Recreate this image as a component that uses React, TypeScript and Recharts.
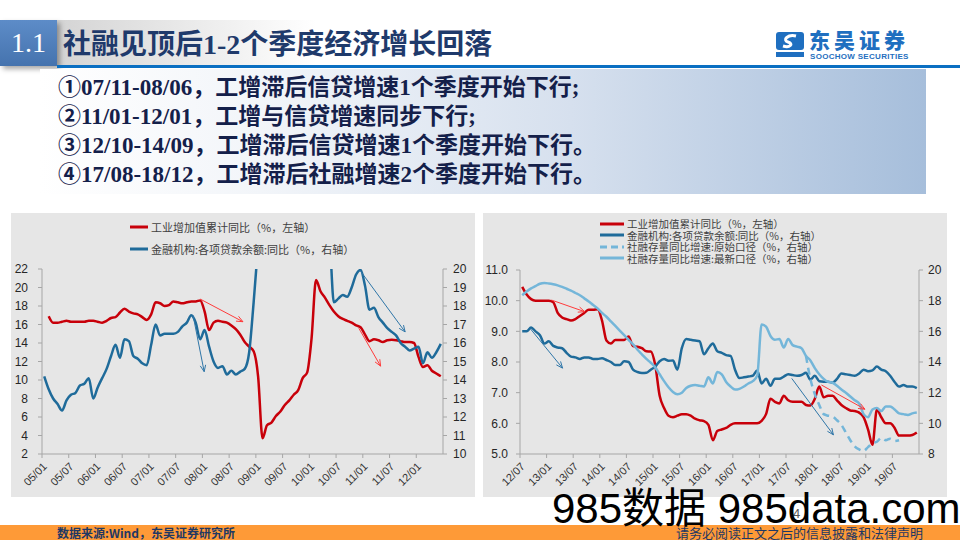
import React from 'react'
import { LineChart, Line, XAxis, YAxis, ReferenceLine } from 'recharts'

// ---------- left chart: 2005/01 - 2012/06 ----------
const leftTickLabels = ['05/01', '05/07', '06/01', '06/07', '07/01', '07/07', '08/01', '08/07', '09/01', '09/07', '10/01', '10/07', '11/01', '11/07', '12/01']

// 工业增加值累计同比 (%, left axis)
const leftIp = [
  null, 16.9, 16.2, 16.2, 16.3, 16.4, 16.3, 16.3, 16.3, 16.3,
  16.4, 16.4, 16.3, 16.2, 16.4, 16.7, 16.8, 17.3, 17.7, 17.4,
  17.2, 17.1, 16.8, 16.5, 17.1, 18.4, 18.3, 18.0, 18.1, 18.5,
  18.4, 18.3, 18.4, 18.5, 18.5, 18.6, 17.4, 15.4, 16.2, 16.4,
  16.3, 16.2, 15.9, 15.5, 14.9, 14.1, 13.6, 13.1, 10.4, 3.7,
  5.1, 5.4, 6.1, 6.6, 7.3, 7.8, 8.4, 8.9, 10.2, 10.8,
  14.5, 20.8, 19.6, 18.9, 18.1, 17.4, 16.9, 16.6, 16.4, 16.2,
  15.9, 15.7, 14.9, 14.2, 14.4, 14.3, 14.1, 14.3, 14.35, 14.3,
  14.2, 14.1, 14.1, 14.0, 12.5, 11.4, 11.6, 11.0, 10.7, 10.4,
]

// 金融机构:各项贷款余额:同比 (%, right axis)
const leftLoan = [
  14.2, 13.5, 13.0, 12.7, 12.35, 12.9, 13.2, 13.3, 13.7, 13.8,
  14.1, 13.0, 13.6, 14.1, 14.6, 15.3, 15.9, 15.2, 16.2, 16.1,
  15.3, 15.15, 14.9, 14.8, 15.9, 17.0, 16.4, 16.5, 16.5, 16.5,
  16.6, 16.9, 17.1, 17.5, 17.1, 16.2, 16.7, 15.8, 15.0, 14.65,
  14.75, 14.3, 14.5, 14.3, 14.45, 14.6, 15.5, 18.2, 21.3, 24.2,
  29.8, 29.7, 30.6, 34.4, 33.9, 34.1, 34.2, 34.2, 33.8, 31.7,
  29.3, 27.6, 22.0, 21.8, 21.5, 18.2, 18.4, 18.6, 18.5, 19.0,
  19.7, 19.95, 19.1, 17.8, 17.9, 17.4, 17.1, 16.8, 16.6, 16.4,
  16.0, 15.8, 15.6, 15.7, 15.8, 14.9, 15.5, 15.2, 15.5, 15.95,
]

// annotation arrows: [month position, value] pairs
const leftArrows = [
  { series: 'ip', from: [35.5, 18.75], to: [45.1, 16.3] },
  { series: 'loan', from: [33.9, 17.5], to: [36.4, 14.45] },
  { series: 'loan', from: [71.3, 19.95], to: [81.5, 16.6] },
  { series: 'ip', from: [71.1, 15.6], to: [76.0, 11.5] },
]

// ---------- right chart: 2012/07 - 2019/12 ----------
const rightTickLabels = ['12/07', '13/01', '13/07', '14/01', '14/07', '15/01', '15/07', '16/01', '16/07', '17/01', '17/07', '18/01', '18/07', '19/01', '19/07']

const rightIp = [
  10.45, 10.2, 10.05, 10.0, 10.0, 10.0, 10.0, 9.95, 9.6, 9.45,
  9.4, 9.35, 9.4, 9.5, 9.6, 9.7, 9.7, 9.72, 9.35, 8.7,
  8.6, 8.72, 8.72, 8.72, 8.83, 8.52, 8.5, 8.45, 8.35, 8.34,
  7.9, 6.9, 6.5, 6.25, 6.2, 6.25, 6.3, 6.3, 6.25, 6.15,
  6.1, 6.07, 5.95, 5.45, 5.75, 5.8, 5.85, 5.95, 6.0, 6.0,
  6.0, 6.0, 6.0, 6.0, 6.08, 6.3, 6.8, 6.7, 6.65, 6.9,
  6.75, 6.7, 6.7, 6.7, 6.6, 6.58, 6.8, 7.2, 6.85, 6.9,
  6.9, 6.75, 6.6, 6.5, 6.42, 6.4, 6.35, 6.2, 5.8, 5.3,
  6.45, 6.2, 6.0, 6.0, 5.85, 5.6, 5.6, 5.6, 5.62, 5.7,
]

const rightLoan = [
  16.0, 16.0, 16.25, 16.0, 15.75, 15.2, 15.35, 15.05, 14.95, 14.9,
  14.6, 14.35, 14.3, 14.2, 14.3, 14.3, 14.2, 14.2, 14.24, 14.13,
  14.0, 13.8, 13.8, 14.05, 14.0, 13.5, 13.35, 13.28, 13.3, 13.5,
  13.7, 14.05, 14.2, 14.08, 14.1, 13.5, 14.9, 15.5, 15.45, 15.4,
  15.35, 14.5, 14.9, 15.2, 14.7, 14.6, 14.45, 14.4, 13.5, 12.95,
  13.0, 13.05, 13.1, 13.45, 12.6, 12.9, 12.45, 12.9, 12.9, 13.05,
  13.2, 13.15, 13.1, 13.15, 13.3, 12.85, 13.1, 12.75, 12.72, 12.72,
  12.65, 12.9, 13.25, 13.2, 13.15, 13.1, 13.25, 13.5, 13.4, 13.45,
  13.7, 13.5, 13.4, 13.1, 12.7, 12.4, 12.5, 12.4, 12.4, 12.3,
]

// 社融存量同比增速:原始口径
const rightTsfOld = [
  null, null, null, null, null, null, null, null, null, null,
  null, null, null, null, null, null, null, null, null, null,
  null, null, null, null, null, null, null, null, null, null,
  null, null, null, null, null, null, null, null, null, null,
  null, null, null, null, null, null, null, null, null, null,
  null, null, null, null, null, null, null, null, null, null,
  null, null, null, null, 14.4, 12.9, 11.9, 11.2, 10.6, 10.5,
  10.45, 10.2, 9.9, 9.4, 8.9, 8.5, 8.3, 8.2, 8.45, 8.7,
  8.8, 9.05, 8.9, 9.0, 8.85, 8.9, null, null, null, null,
]

// 社融存量同比增速:最新口径
const rightTsfNew = [
  18.35, 18.6, 18.8, 18.95, 19.1, 19.15, 19.12, 19.07, 19.0, 18.9,
  18.78, 18.65, 18.5, 18.35, 18.15, 17.95, 17.72, 17.5, 17.2, 16.95,
  16.65, 16.35, 16.05, 15.75, 15.45, 15.15, 14.8, 14.5, 14.2, 13.95,
  13.65, 13.2, 12.75, 12.35, 12.05, 11.9, 12.0, 12.3, 12.45, 12.5,
  12.45, 12.4, 13.0, 12.6, 13.35, 13.2, 12.7, 12.4, 12.2, 12.25,
  12.4, 12.6, 12.75, 13.1, 16.45, 16.3, 15.7, 15.45, 15.5, 14.95,
  15.5, 15.1, 15.0, 14.9, 14.4, 14.1, 13.6, 13.2, 12.9, 12.7,
  12.65, 12.45, 12.2, 12.0, 11.75, 11.5, 11.3, 10.6, 10.4, 10.9,
  11.0, 10.8, 11.1, 11.1, 10.9, 10.65, 10.6, 10.55, 10.65, 10.7,
]

const rightArrows = [
  { series: 'ip', from: [7.1, 10.02], to: [14.6, 9.64] },
  { series: 'loan', from: [2.25, 16.2], to: [9.6, 13.6] },
  { series: 'loan', from: [61.3, 12.93], to: [70.7, 9.25] },
  { series: 'ip', from: [68.0, 7.25], to: [77.8, 6.46] },
]

const RED = '#c8000a'
const DARK_BLUE = '#1f6b9a'
const LIGHT_BLUE = '#74b6d9'
const AXIS = '#a6a6a6'
const SERIF = '"Liberation Serif", "Noto Sans CJK SC", serif'
const CJK = '"Noto Sans CJK SC", sans-serif'
const SANS = '"Liberation Sans", Arial, sans-serif'

const leftData = leftIp.map((v, k) => ({ x: k + 0.5, ip: v, loan: leftLoan[k] }))
const rightData = rightIp.map((v, k) => ({
  x: k + 0.5, ip: v, loan: rightLoan[k], tsfOld: rightTsfOld[k], tsfNew: rightTsfNew[k],
}))

const monthTicks = leftTickLabels.map((_, k) => k * 6)

function XTick({ x, y, payload, labels }: any) {
  return (
    <text x={x} y={y} dy={9} dx={-1} textAnchor="end" fontSize={11} fill="#333"
      fontFamily={SANS} transform={`rotate(-45 ${x} ${y})`}>
      {labels[payload.value / 6]}
    </text>
  )
}

const arrowShape = (color: string) => (props: any) => {
  const { x1, y1, x2, y2 } = props
  const ang = Math.atan2(y2 - y1, x2 - x1)
  const len = 7
  const a1 = ang + Math.PI - 0.4
  const a2 = ang + Math.PI + 0.4
  return (
    <g>
      <line x1={x1} y1={y1} x2={x2} y2={y2} stroke={color} strokeWidth={1} />
      <path
        d={`M${x2 + len * Math.cos(a1)},${y2 + len * Math.sin(a1)} L${x2},${y2} L${x2 + len * Math.cos(a2)},${y2 + len * Math.sin(a2)}`}
        fill="none" stroke={color} strokeWidth={1} />
    </g>
  )
}

function LegendItem({ color, label, dashed, w = 24, fs = 11 }: { color: string; label: string; dashed?: boolean; w?: number; fs?: number }) {
  return (
    <div style={{ display: 'flex', alignItems: 'center', height: 11.5 }}>
      <svg width={w} height={6} style={{ marginRight: 3 }}>
        <line x1={0} y1={3} x2={w} y2={3} stroke={color} strokeWidth={3}
          strokeDasharray={dashed ? '7 4' : undefined} />
      </svg>
      <span style={{ fontSize: fs, lineHeight: '11px', color: '#404040', fontFamily: CJK, whiteSpace: 'nowrap' }}>{label}</span>
    </div>
  )
}

const yTick = { fontSize: 12, fill: '#262626', fontFamily: SANS }

export default function App() {
  return (
    <div style={{ position: 'absolute', left: 0, top: 0, width: 960, height: 540, overflow: 'hidden', background: '#fff' }}>
      {/* header */}
      <div style={{ position: 'absolute', left: 57, top: 20, width: 260, height: 46, background: 'linear-gradient(to right, #d4d4d4, rgba(255,255,255,0))' }} />
      <div style={{ position: 'absolute', left: 0, top: 20, width: 57, height: 46, background: 'linear-gradient(#5d8cc8, #4573ae)', boxShadow: '3px 3px 5px rgba(0,0,0,0.35)', color: '#fff', fontFamily: SERIF, fontSize: 28, lineHeight: '46px', textAlign: 'center' }}>1.1</div>
      <div style={{ position: 'absolute', left: 63, top: 26, fontFamily: SERIF, fontWeight: 700, fontSize: 28, lineHeight: '38px', color: '#1f3a6b', whiteSpace: 'nowrap' }}>社融见顶后1-2个季度经济增长回落</div>
      <div style={{ position: 'absolute', left: 57, top: 65, width: 903, height: 3, background: '#0a6fc2' }} />

      {/* logo */}
      <svg style={{ position: 'absolute', left: 776, top: 32 }} width={28} height={26}>
        <rect x={0} y={0} width={28} height={18} rx={3} fill="#1f6fc0" />
        <path d="M20 4 C12 2, 6 8, 12 10 C18 12, 14 16, 7 14" stroke="#fff" strokeWidth={3} fill="none" />
        <rect x={0} y={20} width={28} height={5} fill="#1f6fc0" />
      </svg>
      <div style={{ position: 'absolute', left: 809, top: 29, fontFamily: CJK, fontWeight: 900, fontSize: 21, lineHeight: '21px', color: '#1f6fc0', letterSpacing: 4 }}>东吴证券</div>
      <div style={{ position: 'absolute', left: 810, top: 53, fontFamily: SANS, fontWeight: 700, fontSize: 8, lineHeight: '8px', color: '#1f6fc0', whiteSpace: 'nowrap', letterSpacing: 0.3 }}>SOOCHOW SECURITIES</div>

      {/* summary box */}
      <div style={{ position: 'absolute', left: 40, top: 69, width: 886, height: 125, background: 'linear-gradient(to right, #ffffff 0%, #f2f5f9 25%, #d6e0ee 60%, #a6bedb 100%)' }} />
      <div style={{ position: 'absolute', left: 58, top: 73, fontFamily: SERIF, fontWeight: 700, fontSize: 23, lineHeight: '29px', color: '#14204a', whiteSpace: 'nowrap' }}>
        <div>①07/11-08/06，工增滞后信贷增速1个季度开始下行;</div>
        <div>②11/01-12/01，工增与信贷增速同步下行;</div>
        <div>③12/10-14/09，工增滞后信贷增速1个季度开始下行。</div>
        <div>④17/08-18/12，工增滞后社融增速2个季度开始下行。</div>
      </div>

      {/* left chart */}
      <div style={{ position: 'absolute', left: 11, top: 213, width: 464, height: 284, background: '#e6e6e6' }}>
        <LineChart width={464} height={284} data={leftData} margin={{ top: 56, right: 0, bottom: 5, left: 0 }}>
          <XAxis dataKey="x" type="number" domain={[0, 90]} ticks={monthTicks} interval={0}
            stroke={AXIS} tickSize={4} height={38}
            tick={(p: any) => <XTick {...p} labels={leftTickLabels} />} />
          <YAxis yAxisId="l" orientation="left" width={31} domain={[2, 22]} ticks={[2, 4, 6, 8, 10, 12, 14, 16, 18, 20, 22]}
            allowDataOverflow stroke={AXIS} tickSize={4} tickMargin={10} tick={yTick} interval={0} />
          <YAxis yAxisId="r" orientation="right" width={32} domain={[10, 20]} ticks={[10, 11, 12, 13, 14, 15, 16, 17, 18, 19, 20]}
            allowDataOverflow stroke={AXIS} tickSize={4} tickMargin={6} tick={yTick} interval={0} />
          <Line yAxisId="l" dataKey="ip" type="monotone" stroke={RED} strokeWidth={2.5} dot={false} isAnimationActive={false} />
          <Line yAxisId="r" dataKey="loan" type="monotone" stroke={DARK_BLUE} strokeWidth={2.5} dot={false} isAnimationActive={false} />
          {leftArrows.map((a, k) => (
            <ReferenceLine key={k} yAxisId={a.series === 'ip' ? 'l' : 'r'}
              segment={[{ x: a.from[0], y: a.from[1] }, { x: a.to[0], y: a.to[1] }]}
              shape={arrowShape(a.series === 'ip' ? '#ff3b3b' : '#2f76a8')} />
          ))}
        </LineChart>
        <div style={{ position: 'absolute', left: 119, top: 8.5 }}>
          <LegendItem color={RED} w={18} label="工业增加值累计同比（%，左轴）" />
          <div style={{ height: 10.5 }} />
          <LegendItem color={DARK_BLUE} w={18} label="金融机构:各项贷款余额:同比（%，右轴）" />
        </div>
      </div>

      {/* right chart */}
      <div style={{ position: 'absolute', left: 483, top: 213, width: 464, height: 284, background: '#e6e6e6' }}>
        <LineChart width={464} height={284} data={rightData} margin={{ top: 57, right: 0, bottom: 5, left: 0 }}>
          <XAxis dataKey="x" type="number" domain={[0, 90]} ticks={monthTicks} interval={0}
            stroke={AXIS} tickSize={4} height={38}
            tick={(p: any) => <XTick {...p} labels={rightTickLabels} />} />
          <YAxis yAxisId="l" orientation="left" width={37} domain={[5, 11]} ticks={[5, 6, 7, 8, 9, 10, 11]}
            tickFormatter={(v: number) => v.toFixed(1)}
            allowDataOverflow stroke={AXIS} tickSize={4} tickMargin={8} tick={yTick} interval={0} />
          <YAxis yAxisId="r" orientation="right" width={28} domain={[8, 20]} ticks={[8, 10, 12, 14, 16, 18, 20]}
            allowDataOverflow stroke={AXIS} tickSize={4} tickMargin={5} tick={yTick} interval={0} />
          <Line yAxisId="l" dataKey="ip" type="monotone" stroke={RED} strokeWidth={2.5} dot={false} isAnimationActive={false} />
          <Line yAxisId="r" dataKey="loan" type="monotone" stroke={DARK_BLUE} strokeWidth={2.5} dot={false} isAnimationActive={false} />
          <Line yAxisId="r" dataKey="tsfOld" type="monotone" stroke={LIGHT_BLUE} strokeWidth={2.5} strokeDasharray="7 5" dot={false} isAnimationActive={false} />
          <Line yAxisId="r" dataKey="tsfNew" type="monotone" stroke={LIGHT_BLUE} strokeWidth={2.5} dot={false} isAnimationActive={false} />
          {rightArrows.map((a, k) => (
            <ReferenceLine key={k} yAxisId={a.series === 'ip' ? 'l' : 'r'}
              segment={[{ x: a.from[0], y: a.from[1] }, { x: a.to[0], y: a.to[1] }]}
              shape={arrowShape(a.series === 'ip' ? '#ff3b3b' : '#2f76a8')} />
          ))}
        </LineChart>
        <div style={{ position: 'absolute', left: 117, top: 5 }}>
          <LegendItem color={RED} fs={10.5} label="工业增加值累计同比（%，左轴）" />
          <LegendItem color={DARK_BLUE} fs={10.5} label="金融机构:各项贷款余额:同比（%，右轴）" />
          <LegendItem color={LIGHT_BLUE} fs={10.5} dashed label="社融存量同比增速:原始口径（%，右轴）" />
          <LegendItem color={LIGHT_BLUE} fs={10.5} label="社融存量同比增速:最新口径（%，右轴）" />
        </div>
      </div>

      {/* footer */}
      <div style={{ position: 'absolute', left: 0, top: 525, width: 960, height: 15, background: '#fe9a37' }} />
      <div style={{ position: 'absolute', left: 57, top: 525, fontFamily: CJK, fontWeight: 700, fontSize: 12, lineHeight: '15px', color: '#1f3864', whiteSpace: 'nowrap' }}>数据来源:Wind，东吴证券研究所</div>
      <div style={{ position: 'absolute', left: 676, top: 525, fontFamily: CJK, fontSize: 13, lineHeight: '15px', color: '#1f3864', whiteSpace: 'nowrap' }}>请务必阅读正文之后的信息披露和法律声明</div>
      <div style={{ position: 'absolute', left: 793, top: 506, fontFamily: SANS, fontSize: 13, lineHeight: '15px', color: '#555' }}>4</div>
      <div style={{ position: 'absolute', left: 552, top: 487, fontFamily: '"Liberation Sans", "Noto Sans CJK SC", sans-serif', fontSize: 42, lineHeight: '44px', color: '#000', whiteSpace: 'nowrap' }}>985数据 985data.com</div>
    </div>
  )
}
